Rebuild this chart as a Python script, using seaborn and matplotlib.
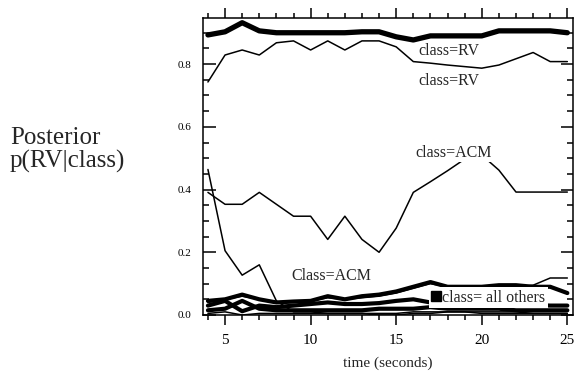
import matplotlib
matplotlib.use("Agg")
import matplotlib.pyplot as plt
from matplotlib.lines import Line2D
from matplotlib.ticker import MultipleLocator, FormatStrFormatter
import seaborn as sns

# time axis (seconds)
time_s = list(range(4, 26))

# posterior p(RV|class) per class
rv_thick = [0.893, 0.903, 0.932, 0.906, 0.9, 0.9, 0.9, 0.9, 0.9, 0.903, 0.903,
            0.887, 0.877, 0.89, 0.89, 0.89, 0.89, 0.906, 0.906, 0.906, 0.906, 0.9]
rv_thin = [0.743, 0.829, 0.845, 0.829, 0.868, 0.874, 0.845, 0.874, 0.845, 0.874, 0.874,
           0.855, 0.808, 0.803, 0.797, 0.792, 0.787, 0.797, 0.817, 0.837, 0.808, 0.808]
acm_upper = [0.391, 0.353, 0.353, 0.391, 0.353, 0.315, 0.315, 0.241, 0.315, 0.241, 0.2,
             0.277, 0.391, 0.425, 0.46, 0.497, 0.51, 0.462, 0.392, 0.392, 0.392, 0.392]
acm_steep = [0.464, 0.205, 0.127, 0.16, 0.045, 0.01, 0.01, 0.005, 0.005, 0.005, 0.0,
             0.0, 0.005, 0.005, 0.01, 0.01, 0.01, 0.01, 0.01, 0.005, 0.005, 0.005]
low_a = [0.045, 0.05, 0.065, 0.05, 0.04, 0.043, 0.045, 0.06, 0.05, 0.06, 0.065,
         0.075, 0.09, 0.105, 0.09, 0.09, 0.09, 0.095, 0.095, 0.09, 0.09, 0.07]
low_b = [0.03, 0.045, 0.012, 0.03, 0.025, 0.03, 0.035, 0.04, 0.035, 0.035, 0.038,
         0.045, 0.05, 0.04, 0.035, 0.035, 0.035, 0.035, 0.035, 0.032, 0.03, 0.03]
low_c = [0.015, 0.02, 0.045, 0.02, 0.015, 0.015, 0.015, 0.015, 0.015, 0.015, 0.02,
         0.02, 0.02, 0.025, 0.02, 0.02, 0.02, 0.02, 0.015, 0.015, 0.015, 0.015]
low_d = [0.04, 0.05, 0.06, 0.05, 0.04, 0.04, 0.045, 0.055, 0.05, 0.055, 0.06,
         0.07, 0.085, 0.1, 0.09, 0.09, 0.09, 0.09, 0.09, 0.095, 0.118, 0.118]
low_e = [0.005, 0.01, 0.0, 0.005, 0.005, 0.005, 0.005, 0.005, 0.005, 0.005, 0.005,
         0.005, 0.01, 0.01, 0.01, 0.01, 0.005, 0.005, 0.005, 0.005, 0.005, 0.005]

sns.set_style("ticks")
plt.rcParams['font.family'] = ['Liberation Serif', 'DejaVu Serif']

fig = plt.figure(figsize=(5.75, 3.75), dpi=100)
ax = fig.add_axes([0.353, 0.16, 0.6435, 0.792])

series = [(low_e, 1.1), (acm_steep, 1.1), (low_c, 3.0), (low_b, 3.0), (low_d, 1.1),
          (low_a, 3.0), (acm_upper, 1.1), (rv_thin, 1.1), (rv_thick, 3.8)]
for vals, lw in series:
    sns.lineplot(x=time_s, y=vals, color='black', linewidth=lw, ax=ax, legend=False)

ax.set_xlim(3.71, 25.33)
ax.set_ylim(0.0, 0.947)

ax.xaxis.set_major_locator(MultipleLocator(5))
ax.xaxis.set_minor_locator(MultipleLocator(1))
ax.yaxis.set_major_locator(MultipleLocator(0.2))
ax.yaxis.set_minor_locator(MultipleLocator(0.05))
ax.yaxis.set_major_formatter(FormatStrFormatter('%.1f'))

ax.tick_params(axis='x', which='both', direction='out', top=True, bottom=True,
               width=1.1, labelsize=11, pad=6, colors='black')
ax.tick_params(axis='x', which='major', length=7.5)
ax.tick_params(axis='x', which='minor', length=3.6)
ax.tick_params(axis='y', which='both', direction='in', left=True, right=True,
               width=1.1, labelsize=8, pad=8, colors='black')
ax.tick_params(axis='y', which='major', length=9)
ax.tick_params(axis='y', which='minor', length=4.5)
for sp in ax.spines.values():
    sp.set_linewidth(1.1)
    sp.set_color('black')
    sp.set_visible(True)

ax.set_xlabel('time (seconds)', fontsize=11, labelpad=7)
ax.set_ylabel('')
fig.text(10 / 575, 1 - 150 / 375, 'Posterior\np(RV|class)', fontsize=18,
         ha='left', va='center', linespacing=1.1)

box = dict(facecolor='white', edgecolor='none', pad=0.5)
ax.text(16.27, 0.842, 'class=RV', fontsize=11.5, va='center', ha='left', zorder=5)
ax.text(16.3, 0.746, 'class=RV', fontsize=11.5, va='center', ha='left', zorder=5)
ax.text(16.1, 0.516, 'class=ACM', fontsize=11.5, va='center', ha='left', bbox=box, zorder=5)
ax.text(8.9, 0.123, 'Class=ACM', fontsize=11.5, va='center', ha='left', zorder=5)

handle = Line2D([], [], marker='s', color='black', linestyle='none', markersize=7)
leg = ax.legend([handle], ['class= all others'], loc='center left',
                bbox_to_anchor=(0.61, 0.058), frameon=True, fancybox=False,
                edgecolor='none', facecolor='white', framealpha=1, fontsize=11.5,
                handletextpad=0.1, borderpad=0.15, handlelength=0.6, borderaxespad=0)
leg.set_zorder(6)

fig.savefig('out.png', dpi=100)
